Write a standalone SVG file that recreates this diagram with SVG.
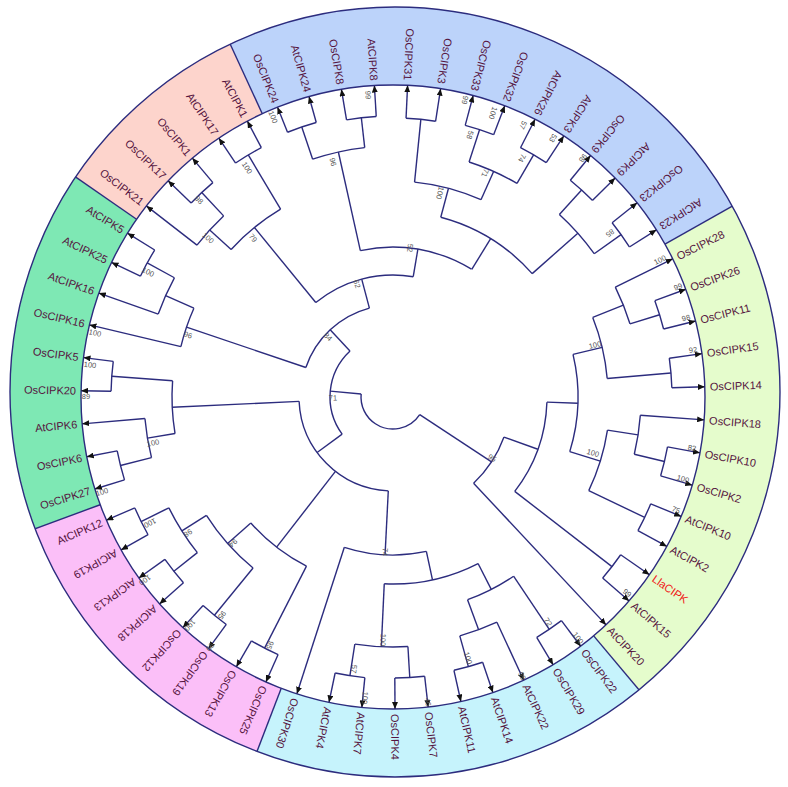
<svg xmlns="http://www.w3.org/2000/svg" width="788" height="787" viewBox="0 0 788 787">
<defs>
<style>
.c line,.c circle{stroke:#2c2c7e;stroke-width:1.4;fill:none}
.sec{fill:none;stroke-width:100}
.lf{font-family:"Liberation Sans",Arial,sans-serif;font-size:11px;fill:#561440;dominant-baseline:central}
.e{text-anchor:end}
.bs{font-family:"Liberation Sans",Arial,sans-serif;font-size:7.5px;fill:#555;text-anchor:middle;dominant-baseline:central}
.bd{stroke:#2c2c7e;stroke-width:1.4}
</style>
<marker id="ah" viewBox="0 0 7 6" refX="7" refY="3" markerWidth="7" markerHeight="6" markerUnits="userSpaceOnUse" orient="auto"><path d="M0,0L7,3L0,6z" fill="#111"/></marker>
<clipPath id="oc"><circle cx="395" cy="392" r="385"/></clipPath>
</defs>
<rect width="788" height="787" fill="#fff"/>
<g id="sectors" clip-path="url(#oc)">
<g transform="translate(393,397)">
<circle class="sec" r="350" pathLength="360" stroke="#e5fccc" stroke-dasharray="79.32 400" transform="rotate(-29.35)"/>
<circle class="sec" r="350" pathLength="360" stroke="#c6f3fc" stroke-dasharray="61.02 400" transform="rotate(49.97)"/>
<circle class="sec" r="350" pathLength="360" stroke="#fbbff8" stroke-dasharray="48.81 400" transform="rotate(110.99)"/>
<circle class="sec" r="350" pathLength="360" stroke="#7ee8b4" stroke-dasharray="54.92 400" transform="rotate(159.8)"/>
<circle class="sec" r="350" pathLength="360" stroke="#fdd4cc" stroke-dasharray="30.51 400" transform="rotate(214.72)"/>
<circle class="sec" r="350" pathLength="360" stroke="#bcd3fa" stroke-dasharray="85.42 400" transform="rotate(245.23)"/>
<line class="bd" x1="312" x2="400" transform="rotate(-29.35)"/>
<line class="bd" x1="312" x2="400" transform="rotate(49.97)"/>
<line class="bd" x1="312" x2="400" transform="rotate(110.99)"/>
<line class="bd" x1="312" x2="400" transform="rotate(159.8)"/>
<line class="bd" x1="312" x2="400" transform="rotate(214.72)"/>
<line class="bd" x1="312" x2="400" transform="rotate(245.23)"/>
</g>
</g>
<circle cx="395" cy="392" r="385" fill="none" stroke="#2c2c7e" stroke-width="1.4"/>
<circle cx="393" cy="397" r="312" fill="#fff" stroke="#2c2c7e" stroke-width="1.4"/>
<g id="connectors" class="c" transform="translate(393,397)">
<circle r="279" pathLength="360" stroke-dasharray="6.1 400" transform="rotate(-20.2)"/>
<circle r="248" pathLength="360" stroke-dasharray="9.15 400" transform="rotate(-26.3)"/>
<circle r="279" pathLength="360" stroke-dasharray="6.1 400" transform="rotate(-7.99)"/>
<circle r="215" pathLength="360" stroke-dasharray="16.785 400" transform="rotate(-21.725)"/>
<circle r="279" pathLength="360" stroke-dasharray="6.1 400" transform="rotate(10.31)"/>
<circle r="248" pathLength="360" stroke-dasharray="9.15 400" transform="rotate(4.21)"/>
<circle r="279" pathLength="360" stroke-dasharray="6.11 400" transform="rotate(22.51)"/>
<circle r="217" pathLength="360" stroke-dasharray="16.78 400" transform="rotate(8.785)"/>
<circle r="185" pathLength="360" stroke-dasharray="30.505 400" transform="rotate(-13.33)"/>
<circle r="277" pathLength="360" stroke-dasharray="6.1 400" transform="rotate(34.72)"/>
<circle r="154" pathLength="360" stroke-dasharray="35.85 400" transform="rotate(1.92)"/>
<circle r="118" pathLength="360" stroke-dasharray="27.075 400" transform="rotate(19.845)"/>
<circle r="280" pathLength="360" stroke-dasharray="6.1 400" transform="rotate(53.02)"/>
<circle r="280" pathLength="360" stroke-dasharray="6.1 400" transform="rotate(71.33)"/>
<circle r="248" pathLength="360" stroke-dasharray="9.15 400" transform="rotate(65.23)"/>
<circle r="216" pathLength="360" stroke-dasharray="13.735 400" transform="rotate(56.07)"/>
<circle r="281" pathLength="360" stroke-dasharray="6.1 400" transform="rotate(83.53)"/>
<circle r="282" pathLength="360" stroke-dasharray="6.11 400" transform="rotate(95.73)"/>
<circle r="250" pathLength="360" stroke-dasharray="12.205 400" transform="rotate(86.58)"/>
<circle r="187" pathLength="360" stroke-dasharray="29.74 400" transform="rotate(62.94)"/>
<circle r="158" pathLength="360" stroke-dasharray="30.13 400" transform="rotate(77.81)"/>
<circle r="282" pathLength="360" stroke-dasharray="6.1 400" transform="rotate(114.04)"/>
<circle r="282" pathLength="360" stroke-dasharray="6.1 400" transform="rotate(126.24)"/>
<circle r="280" pathLength="360" stroke-dasharray="6.1 400" transform="rotate(138.45)"/>
<circle r="281" pathLength="360" stroke-dasharray="6.1 400" transform="rotate(150.65)"/>
<circle r="250" pathLength="360" stroke-dasharray="12.2 400" transform="rotate(141.5)"/>
<circle r="221" pathLength="360" stroke-dasharray="18.31 400" transform="rotate(129.29)"/>
<circle r="190" pathLength="360" stroke-dasharray="21.355 400" transform="rotate(117.09)"/>
<circle r="94" pathLength="360" stroke-dasharray="84.47 400" transform="rotate(92.875)"/>
<circle r="281" pathLength="360" stroke-dasharray="6.1 400" transform="rotate(162.85)"/>
<circle r="249" pathLength="360" stroke-dasharray="9.16 400" transform="rotate(165.9)"/>
<circle r="282" pathLength="360" stroke-dasharray="6.1 400" transform="rotate(181.16)"/>
<circle r="221" pathLength="360" stroke-dasharray="13.73 400" transform="rotate(170.48)"/>
<circle r="280" pathLength="360" stroke-dasharray="6.11 400" transform="rotate(205.56)"/>
<circle r="249" pathLength="360" stroke-dasharray="9.155 400" transform="rotate(199.46)"/>
<circle r="218" pathLength="360" stroke-dasharray="10.68 400" transform="rotate(193.36)"/>
<circle r="280" pathLength="360" stroke-dasharray="6.1 400" transform="rotate(223.87)"/>
<circle r="248" pathLength="360" stroke-dasharray="9.15 400" transform="rotate(217.77)"/>
<circle r="282" pathLength="360" stroke-dasharray="6.1 400" transform="rotate(236.07)"/>
<circle r="219" pathLength="360" stroke-dasharray="16.775 400" transform="rotate(222.345)"/>
<circle r="285" pathLength="360" stroke-dasharray="6.1 400" transform="rotate(248.28)"/>
<circle r="281" pathLength="360" stroke-dasharray="6.1 400" transform="rotate(260.48)"/>
<circle r="251" pathLength="360" stroke-dasharray="12.2 400" transform="rotate(251.33)"/>
<circle r="279" pathLength="360" stroke-dasharray="6.1 400" transform="rotate(272.68)"/>
<circle r="281" pathLength="360" stroke-dasharray="6.1 400" transform="rotate(284.89)"/>
<circle r="280" pathLength="360" stroke-dasharray="6.1 400" transform="rotate(297.09)"/>
<circle r="247" pathLength="360" stroke-dasharray="12.2 400" transform="rotate(287.94)"/>
<circle r="216" pathLength="360" stroke-dasharray="18.31 400" transform="rotate(275.73)"/>
<circle r="280" pathLength="360" stroke-dasharray="6.11 400" transform="rotate(309.29)"/>
<circle r="280" pathLength="360" stroke-dasharray="6.1 400" transform="rotate(321.5)"/>
<circle r="247" pathLength="360" stroke-dasharray="12.205 400" transform="rotate(312.345)"/>
<circle r="186" pathLength="360" stroke-dasharray="33.565 400" transform="rotate(284.885)"/>
<circle r="150" pathLength="360" stroke-dasharray="44.12 400" transform="rotate(257.43)"/>
<circle r="122" pathLength="360" stroke-dasharray="48.82 400" transform="rotate(230.73)"/>
<circle r="92" pathLength="360" stroke-dasharray="56.44 400" transform="rotate(198.7)"/>
<circle r="63" pathLength="360" stroke-dasharray="83.09 400" transform="rotate(143.83)"/>
<circle r="32" pathLength="360" stroke-dasharray="151.995 400" transform="rotate(33.38)"/>
<line x1="248" x2="279" transform="rotate(-17.15)"/>
<line x1="215" x2="248" transform="rotate(-21.725)"/>
<line x1="215" x2="279" transform="rotate(-4.94)"/>
<line x1="185" x2="215" transform="rotate(-13.33)"/>
<line x1="248" x2="279" transform="rotate(13.36)"/>
<line x1="217" x2="248" transform="rotate(8.785)"/>
<line x1="217" x2="279" transform="rotate(25.565)"/>
<line x1="185" x2="217" transform="rotate(17.175)"/>
<line x1="154" x2="185" transform="rotate(1.92)"/>
<line x1="154" x2="277" transform="rotate(37.77)"/>
<line x1="118" x2="154" transform="rotate(19.845)"/>
<line x1="32" x2="118" transform="rotate(33.38)"/>
<line x1="216" x2="280" transform="rotate(56.07)"/>
<line x1="248" x2="280" transform="rotate(74.38)"/>
<line x1="216" x2="248" transform="rotate(69.805)"/>
<line x1="187" x2="216" transform="rotate(62.94)"/>
<line x1="250" x2="281" transform="rotate(86.58)"/>
<line x1="250" x2="282" transform="rotate(98.785)"/>
<line x1="187" x2="250" transform="rotate(92.68)"/>
<line x1="158" x2="187" transform="rotate(77.81)"/>
<line x1="94" x2="158" transform="rotate(92.875)"/>
<line x1="190" x2="282" transform="rotate(117.09)"/>
<line x1="221" x2="282" transform="rotate(129.29)"/>
<line x1="250" x2="280" transform="rotate(141.5)"/>
<line x1="250" x2="281" transform="rotate(153.7)"/>
<line x1="221" x2="250" transform="rotate(147.6)"/>
<line x1="190" x2="221" transform="rotate(138.445)"/>
<line x1="94" x2="190" transform="rotate(127.77)"/>
<line x1="249" x2="281" transform="rotate(165.9)"/>
<line x1="221" x2="249" transform="rotate(170.48)"/>
<line x1="221" x2="282" transform="rotate(184.21)"/>
<line x1="94" x2="221" transform="rotate(177.345)"/>
<line x1="63" x2="94" transform="rotate(143.83)"/>
<line x1="249" x2="280" transform="rotate(208.615)"/>
<line x1="218" x2="249" transform="rotate(204.04)"/>
<line x1="92" x2="218" transform="rotate(198.7)"/>
<line x1="248" x2="280" transform="rotate(226.92)"/>
<line x1="219" x2="248" transform="rotate(222.345)"/>
<line x1="219" x2="282" transform="rotate(239.12)"/>
<line x1="122" x2="219" transform="rotate(230.73)"/>
<line x1="251" x2="285" transform="rotate(251.33)"/>
<line x1="251" x2="281" transform="rotate(263.53)"/>
<line x1="150" x2="251" transform="rotate(257.43)"/>
<line x1="216" x2="279" transform="rotate(275.73)"/>
<line x1="247" x2="281" transform="rotate(287.94)"/>
<line x1="247" x2="280" transform="rotate(300.14)"/>
<line x1="216" x2="247" transform="rotate(294.04)"/>
<line x1="186" x2="216" transform="rotate(284.885)"/>
<line x1="247" x2="280" transform="rotate(312.345)"/>
<line x1="247" x2="280" transform="rotate(324.55)"/>
<line x1="186" x2="247" transform="rotate(318.45)"/>
<line x1="150" x2="186" transform="rotate(301.67)"/>
<line x1="122" x2="150" transform="rotate(279.55)"/>
<line x1="92" x2="122" transform="rotate(255.14)"/>
<line x1="63" x2="92" transform="rotate(226.92)"/>
<line x1="32" x2="63" transform="rotate(185.375)"/>
<g marker-end="url(#ah)">
<line x1="248" x2="312" transform="rotate(-26.3)"/>
<line x1="279" x2="312" transform="rotate(-20.2)"/>
<line x1="279" x2="312" transform="rotate(-14.1)"/>
<line x1="279" x2="312" transform="rotate(-7.99)"/>
<line x1="279" x2="312" transform="rotate(-1.89)"/>
<line x1="248" x2="312" transform="rotate(4.21)"/>
<line x1="279" x2="312" transform="rotate(10.31)"/>
<line x1="279" x2="312" transform="rotate(16.41)"/>
<line x1="279" x2="312" transform="rotate(22.51)"/>
<line x1="279" x2="312" transform="rotate(28.62)"/>
<line x1="277" x2="312" transform="rotate(34.72)"/>
<line x1="277" x2="312" transform="rotate(40.82)"/>
<line x1="118" x2="312" transform="rotate(46.92)"/>
<line x1="280" x2="312" transform="rotate(53.02)"/>
<line x1="280" x2="312" transform="rotate(59.12)"/>
<line x1="248" x2="312" transform="rotate(65.23)"/>
<line x1="280" x2="312" transform="rotate(71.33)"/>
<line x1="280" x2="312" transform="rotate(77.43)"/>
<line x1="281" x2="312" transform="rotate(83.53)"/>
<line x1="281" x2="312" transform="rotate(89.63)"/>
<line x1="282" x2="312" transform="rotate(95.73)"/>
<line x1="282" x2="312" transform="rotate(101.84)"/>
<line x1="158" x2="312" transform="rotate(107.94)"/>
<line x1="282" x2="312" transform="rotate(114.04)"/>
<line x1="282" x2="312" transform="rotate(120.14)"/>
<line x1="282" x2="312" transform="rotate(126.24)"/>
<line x1="282" x2="312" transform="rotate(132.34)"/>
<line x1="280" x2="312" transform="rotate(138.45)"/>
<line x1="280" x2="312" transform="rotate(144.55)"/>
<line x1="281" x2="312" transform="rotate(150.65)"/>
<line x1="281" x2="312" transform="rotate(156.75)"/>
<line x1="281" x2="312" transform="rotate(162.85)"/>
<line x1="281" x2="312" transform="rotate(168.95)"/>
<line x1="249" x2="312" transform="rotate(175.06)"/>
<line x1="282" x2="312" transform="rotate(181.16)"/>
<line x1="282" x2="312" transform="rotate(187.26)"/>
<line x1="218" x2="312" transform="rotate(193.36)"/>
<line x1="249" x2="312" transform="rotate(199.46)"/>
<line x1="280" x2="312" transform="rotate(205.56)"/>
<line x1="280" x2="312" transform="rotate(211.67)"/>
<line x1="248" x2="312" transform="rotate(217.77)"/>
<line x1="280" x2="312" transform="rotate(223.87)"/>
<line x1="280" x2="312" transform="rotate(229.97)"/>
<line x1="282" x2="312" transform="rotate(236.07)"/>
<line x1="282" x2="312" transform="rotate(242.17)"/>
<line x1="285" x2="312" transform="rotate(248.28)"/>
<line x1="285" x2="312" transform="rotate(254.38)"/>
<line x1="281" x2="312" transform="rotate(260.48)"/>
<line x1="281" x2="312" transform="rotate(266.58)"/>
<line x1="279" x2="312" transform="rotate(272.68)"/>
<line x1="279" x2="312" transform="rotate(278.78)"/>
<line x1="281" x2="312" transform="rotate(284.89)"/>
<line x1="281" x2="312" transform="rotate(290.99)"/>
<line x1="280" x2="312" transform="rotate(297.09)"/>
<line x1="280" x2="312" transform="rotate(303.19)"/>
<line x1="280" x2="312" transform="rotate(309.29)"/>
<line x1="280" x2="312" transform="rotate(315.4)"/>
<line x1="280" x2="312" transform="rotate(321.5)"/>
<line x1="280" x2="312" transform="rotate(327.6)"/>
</g>
</g>
<g id="leaves" transform="translate(393,397)">
<g id="OsCIPK28"><text class="lf" transform="rotate(-26.3) translate(317,0)">OsCIPK28</text></g>
<g id="OsCIPK26"><text class="lf" transform="rotate(-20.2) translate(317,0)">OsCIPK26</text></g>
<g id="OsCIPK11"><text class="lf" transform="rotate(-14.1) translate(317,0)">OsCIPK11</text></g>
<g id="OsCIPK15"><text class="lf" transform="rotate(-7.99) translate(317,0)">OsCIPK15</text></g>
<g id="OsCIPK14"><text class="lf" transform="rotate(-1.89) translate(317,0)">OsCIPK14</text></g>
<g id="OsCIPK18"><text class="lf" transform="rotate(4.21) translate(317,0)">OsCIPK18</text></g>
<g id="OsCIPK10"><text class="lf" transform="rotate(10.31) translate(317,0)">OsCIPK10</text></g>
<g id="OsCIPK2"><text class="lf" transform="rotate(16.41) translate(317,0)">OsCIPK2</text></g>
<g id="AtCIPK10"><text class="lf" transform="rotate(22.51) translate(317,0)">AtCIPK10</text></g>
<g id="AtCIPK2"><text class="lf" transform="rotate(28.62) translate(317,0)">AtCIPK2</text></g>
<g id="LlaCIPK"><text class="lf" style="fill:#f01818" transform="rotate(34.72) translate(317,0)">LlaCIPK</text></g>
<g id="AtCIPK15"><text class="lf" transform="rotate(40.82) translate(317,0)">AtCIPK15</text></g>
<g id="AtCIPK20"><text class="lf" transform="rotate(46.92) translate(317,0)">AtCIPK20</text></g>
<g id="OsCIPK22"><text class="lf" transform="rotate(53.02) translate(317,0)">OsCIPK22</text></g>
<g id="OsCIPK29"><text class="lf" transform="rotate(59.12) translate(317,0)">OsCIPK29</text></g>
<g id="AtCIPK22"><text class="lf" transform="rotate(65.23) translate(317,0)">AtCIPK22</text></g>
<g id="AtCIPK14"><text class="lf" transform="rotate(71.33) translate(317,0)">AtCIPK14</text></g>
<g id="AtCIPK11"><text class="lf" transform="rotate(77.43) translate(317,0)">AtCIPK11</text></g>
<g id="OsCIPK7"><text class="lf" transform="rotate(83.53) translate(317,0)">OsCIPK7</text></g>
<g id="OsCIPK4"><text class="lf" transform="rotate(89.63) translate(317,0)">OsCIPK4</text></g>
<g id="AtCIPK7"><text class="lf" transform="rotate(95.73) translate(317,0)">AtCIPK7</text></g>
<g id="AtCIPK4"><text class="lf" transform="rotate(101.84) translate(317,0)">AtCIPK4</text></g>
<g id="OsCIPK30"><text class="lf" transform="rotate(107.94) translate(317,0)">OsCIPK30</text></g>
<g id="OsCIPK25"><text class="lf" transform="rotate(114.04) translate(317,0)">OsCIPK25</text></g>
<g id="OsCIPK13"><text class="lf" transform="rotate(120.14) translate(317,0)">OsCIPK13</text></g>
<g id="OsCIPK19"><text class="lf" transform="rotate(126.24) translate(317,0)">OsCIPK19</text></g>
<g id="OsCIPK12"><text class="lf" transform="rotate(132.34) translate(317,0)">OsCIPK12</text></g>
<g id="AtCIPK18"><text class="lf" transform="rotate(138.45) translate(317,0)">AtCIPK18</text></g>
<g id="AtCIPK13"><text class="lf" transform="rotate(144.55) translate(317,0)">AtCIPK13</text></g>
<g id="AtCIPK19"><text class="lf" transform="rotate(150.65) translate(317,0)">AtCIPK19</text></g>
<g id="AtCIPK12"><text class="lf e" transform="rotate(156.75) translate(317,0) rotate(180)">AtCIPK12</text></g>
<g id="OsCIPK27"><text class="lf e" transform="rotate(162.85) translate(317,0) rotate(180)">OsCIPK27</text></g>
<g id="OsCIPK6"><text class="lf e" transform="rotate(168.95) translate(317,0) rotate(180)">OsCIPK6</text></g>
<g id="AtCIPK6"><text class="lf e" transform="rotate(175.06) translate(317,0) rotate(180)">AtCIPK6</text></g>
<g id="OsCIPK20"><text class="lf e" transform="rotate(181.16) translate(317,0) rotate(180)">OsCIPK20</text></g>
<g id="OsCIPK5"><text class="lf e" transform="rotate(187.26) translate(317,0) rotate(180)">OsCIPK5</text></g>
<g id="OsCIPK16"><text class="lf e" transform="rotate(193.36) translate(317,0) rotate(180)">OsCIPK16</text></g>
<g id="AtCIPK16"><text class="lf e" transform="rotate(199.46) translate(317,0) rotate(180)">AtCIPK16</text></g>
<g id="AtCIPK25"><text class="lf e" transform="rotate(205.56) translate(317,0) rotate(180)">AtCIPK25</text></g>
<g id="AtCIPK5"><text class="lf e" transform="rotate(211.67) translate(317,0) rotate(180)">AtCIPK5</text></g>
<g id="OsCIPK21"><text class="lf e" transform="rotate(217.77) translate(317,0) rotate(180)">OsCIPK21</text></g>
<g id="OsCIPK17"><text class="lf e" transform="rotate(223.87) translate(317,0) rotate(180)">OsCIPK17</text></g>
<g id="OsCIPK1"><text class="lf e" transform="rotate(229.97) translate(317,0) rotate(180)">OsCIPK1</text></g>
<g id="AtCIPK17"><text class="lf e" transform="rotate(236.07) translate(317,0) rotate(180)">AtCIPK17</text></g>
<g id="AtCIPK1"><text class="lf e" transform="rotate(242.17) translate(317,0) rotate(180)">AtCIPK1</text></g>
<g id="OsCIPK24"><text class="lf e" transform="rotate(248.28) translate(317,0) rotate(180)">OsCIPK24</text></g>
<g id="AtCIPK24"><text class="lf e" transform="rotate(254.38) translate(317,0) rotate(180)">AtCIPK24</text></g>
<g id="OsCIPK8"><text class="lf e" transform="rotate(260.48) translate(317,0) rotate(180)">OsCIPK8</text></g>
<g id="AtCIPK8"><text class="lf e" transform="rotate(266.58) translate(317,0) rotate(180)">AtCIPK8</text></g>
<g id="OsCIPK31"><text class="lf e" transform="rotate(272.68) translate(317,0) rotate(180)">OsCIPK31</text></g>
<g id="OsCIPK3"><text class="lf e" transform="rotate(278.78) translate(317,0) rotate(180)">OsCIPK3</text></g>
<g id="OsCIPK33"><text class="lf e" transform="rotate(284.89) translate(317,0) rotate(180)">OsCIPK33</text></g>
<g id="OsCIPK32"><text class="lf e" transform="rotate(290.99) translate(317,0) rotate(180)">OsCIPK32</text></g>
<g id="AtCIPK26"><text class="lf e" transform="rotate(297.09) translate(317,0) rotate(180)">AtCIPK26</text></g>
<g id="AtCIPK3"><text class="lf e" transform="rotate(303.19) translate(317,0) rotate(180)">AtCIPK3</text></g>
<g id="OsCIPK9"><text class="lf e" transform="rotate(309.29) translate(317,0) rotate(180)">OsCIPK9</text></g>
<g id="AtCIPK9"><text class="lf e" transform="rotate(315.4) translate(317,0) rotate(180)">AtCIPK9</text></g>
<g id="OsCIPK23"><text class="lf e" transform="rotate(321.5) translate(317,0) rotate(180)">OsCIPK23</text></g>
<g id="AtCIPK23"><text class="lf e" transform="rotate(327.6) translate(317,0) rotate(180)">AtCIPK23</text></g>
</g>
<g id="bootstrap">
<text class="bs" transform="translate(660,260) rotate(-27)">100</text>
<text class="bs" transform="translate(678,287) rotate(-21)">99</text>
<text class="bs" transform="translate(686,318) rotate(-15)">98</text>
<text class="bs" transform="translate(693,350) rotate(-9)">92</text>
<text class="bs" transform="translate(595,345) rotate(-14)">100</text>
<text class="bs" transform="translate(692,448) rotate(10)">82</text>
<text class="bs" transform="translate(683,479) rotate(16)">100</text>
<text class="bs" transform="translate(676,510) rotate(22)">75</text>
<text class="bs" transform="translate(593,453) rotate(16)">100</text>
<text class="bs" transform="translate(627,593) rotate(40)">99</text>
<text class="bs" transform="translate(492,458) rotate(32)">95</text>
<text class="bs" transform="translate(548,622) rotate(55)">72</text>
<text class="bs" transform="translate(578,638) rotate(52)">100</text>
<text class="bs" transform="translate(522,676) rotate(65)">99</text>
<text class="bs" transform="translate(468,658) rotate(74)">100</text>
<text class="bs" transform="translate(428,702) rotate(83)">46</text>
<text class="bs" transform="translate(383,640) rotate(92)">100</text>
<text class="bs" transform="translate(354,669) rotate(98)">57</text>
<text class="bs" transform="translate(365,698) rotate(95)">100</text>
<text class="bs" transform="translate(385,552) rotate(93)">74</text>
<text class="bs" transform="translate(150,523) rotate(153)">100</text>
<text class="bs" transform="translate(188,533) rotate(146)">98</text>
<text class="bs" transform="translate(145,580) rotate(144)">100</text>
<text class="bs" transform="translate(190,625) rotate(132)">100</text>
<text class="bs" transform="translate(210,647) rotate(126)">99</text>
<text class="bs" transform="translate(233,543) rotate(138)">94</text>
<text class="bs" transform="translate(222,615) rotate(128)">95</text>
<text class="bs" transform="translate(270,645) rotate(116)">95</text>
<text class="bs" transform="translate(148,272) rotate(27)">100</text>
<text class="bs" transform="translate(188,335) rotate(17)">96</text>
<text class="bs" transform="translate(95,333) rotate(12)">100</text>
<text class="bs" transform="translate(90,365) rotate(6)">100</text>
<text class="bs" transform="translate(86,396) rotate(0)">89</text>
<text class="bs" transform="translate(153,443) rotate(-11)">100</text>
<text class="bs" transform="translate(102,492) rotate(-18)">100</text>
<text class="bs" transform="translate(199,200) rotate(45)">98</text>
<text class="bs" transform="translate(208,238) rotate(41)">100</text>
<text class="bs" transform="translate(247,168) rotate(57)">100</text>
<text class="bs" transform="translate(253,238) rotate(49)">79</text>
<text class="bs" transform="translate(273,117) rotate(67)">100</text>
<text class="bs" transform="translate(333,162) rotate(76)">96</text>
<text class="bs" transform="translate(368,95) rotate(85)">99</text>
<text class="bs" transform="translate(465,100) rotate(104)">99</text>
<text class="bs" transform="translate(493,113) rotate(109)">100</text>
<text class="bs" transform="translate(470,135) rotate(106)">58</text>
<text class="bs" transform="translate(523,125) rotate(115)">57</text>
<text class="bs" transform="translate(553,138) rotate(122)">53</text>
<text class="bs" transform="translate(522,158) rotate(118)">74</text>
<text class="bs" transform="translate(485,173) rotate(112)">71</text>
<text class="bs" transform="translate(440,193) rotate(103)">100</text>
<text class="bs" transform="translate(583,158) rotate(128)">98</text>
<text class="bs" transform="translate(610,233) rotate(143)">85</text>
<text class="bs" transform="translate(410,248) rotate(96)">52</text>
<text class="bs" transform="translate(357,284) rotate(72)">62</text>
<text class="bs" transform="translate(328,337) rotate(43)">84</text>
<text class="bs" transform="translate(333,398) rotate(-1)">71</text>
</g>
</svg>
